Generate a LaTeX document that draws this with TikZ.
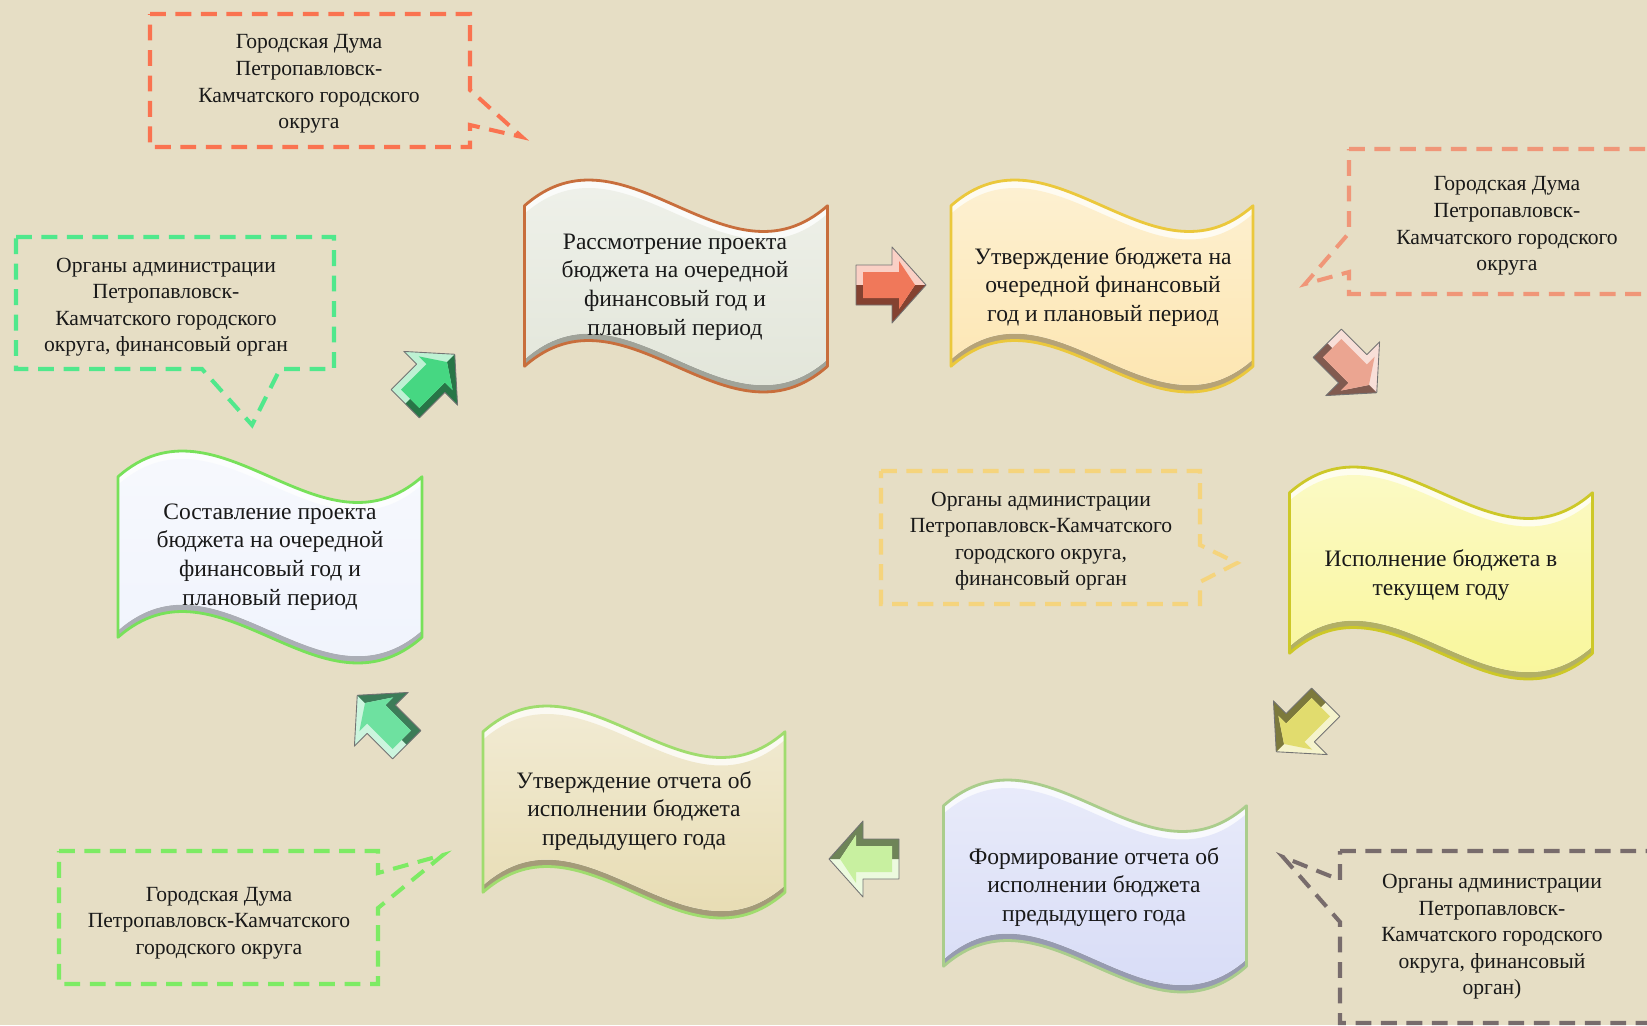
\documentclass[tikz,border=0pt]{standalone}
\usepackage{fontspec}
\setmainfont{Liberation Serif}
\definecolor{bg}{RGB}{230,222,197}
\definecolor{txt}{RGB}{25,25,25}
\definecolor{cA}{RGB}{250,115,80}
\definecolor{cB}{RGB}{80,232,140}
\definecolor{cC}{RGB}{240,150,120}
\definecolor{cD}{RGB}{245,212,125}
\definecolor{cE}{RGB}{120,108,108}
\definecolor{cF}{RGB}{125,235,100}
\definecolor{fA}{RGB}{222,226,212}\definecolor{oA}{RGB}{200,110,60}
\definecolor{fB}{RGB}{252,226,165}\definecolor{oB}{RGB}{235,200,60}
\definecolor{fC}{RGB}{248,245,140}\definecolor{oC}{RGB}{205,200,40}
\definecolor{fD}{RGB}{210,215,245}\definecolor{oD}{RGB}{170,205,140}
\definecolor{fE}{RGB}{228,215,168}\definecolor{oE}{RGB}{160,220,110}
\definecolor{fF}{RGB}{238,242,252}\definecolor{oF}{RGB}{120,225,90}
\definecolor{aA}{RGB}{70,215,130}
\definecolor{aB}{RGB}{240,120,90}
\definecolor{aC}{RGB}{235,165,145}
\definecolor{aD}{RGB}{225,220,110}
\definecolor{aE}{RGB}{200,240,160}
\definecolor{aF}{RGB}{110,225,160}
\newcommand\wavep[4]{(#1-#3/2,#2-#4*3/8) .. controls (#1-#3/6,#2-#4*3/8-#4*5/12) and (#1+#3/6,#2-#4*3/8+#4*5/12) .. (#1+#3/2,#2-#4*3/8) -- (#1+#3/2,#2+#4*3/8) .. controls (#1+#3/6,#2+#4*3/8+#4*5/12) and (#1-#3/6,#2+#4*3/8-#4*5/12) .. (#1-#3/2,#2+#4*3/8) -- cycle}
\newcommand\flagshape[6]{%
 \begin{scope}
  \clip \wavep{#1}{#2}{#3}{#4};
  \fill[#5!72!black] \wavep{#1}{#2}{#3}{#4};
  \fill[#5!15!white] \wavep{#1}{#2-7}{#3}{#4};
  \begin{scope}
   \clip \wavep{#1}{#2-7}{#3}{#4};
   \shade[top color=#5!40!white, bottom color=#5] \wavep{#1}{#2+8}{#3}{#4};
  \end{scope}
 \end{scope}
 \draw[#6, line width=1.6pt, line join=round] \wavep{#1}{#2}{#3}{#4};
}
\newcommand\blockarrow[4]{%
 \begin{scope}[shift={(#1,#2)}, rotate=#3]
  \fill[#4!35!white] (-35,-20) -- (1,-20) -- (1,-38) -- (35,0) -- (1,38) -- (1,20) -- (-35,20) -- cycle;
  \fill[#4!55!black] (-35,0) -- (-35,20) -- (1,20) -- (1,38) -- (35,0) -- (24,0) -- (8,24) -- (8,13) -- (-28,13) -- (-28,0) -- cycle;
  \fill[#4] (-28,-13) -- (8,-13) -- (8,-24) -- (24,0) -- (8,24) -- (8,13) -- (-28,13) -- cycle;
  \draw[black!55, line width=0.5pt, line join=round] (-35,-20) -- (1,-20) -- (1,-38) -- (35,0) -- (1,38) -- (1,20) -- (-35,20) -- cycle;
 \end{scope}}
\tikzset{
 callout/.style={line width=2.3pt, dash pattern=on 9pt off 5.5pt, line join=miter},
 wtext/.style={align=center, text=txt, font=\fontsize{13.4}{16.3}\selectfont},
 ctext/.style={align=center, text=txt, font=\fontsize{12.3}{15.1}\selectfont}
}
\begin{document}
\begin{tikzpicture}[x=0.02cm,y=-0.02cm]
\useasboundingbox (0,0) rectangle (1647,1025);
\clip (0,0) rectangle (1647,1025);
\fill[bg] (0,0) rectangle (1647,1025);

% callouts
\draw[callout, cA] (150,14) -- (470,14) -- (470,90) -- (522,137) -- (470,125) -- (470,147) -- (150,147) -- cycle;
\node[ctext] (t1) at (309,84) {Городская Дума\\Петропавловск-\\Камчатского городского\\округа};

\draw[callout, cB] (16,237) -- (334,237) -- (334,369) -- (280,369) -- (252,425) -- (202,369) -- (16,369) -- cycle;
\node[ctext] (t2) at (166,307) {Органы администрации\\Петропавловск-\\Камчатского городского\\округа, финансовый орган};

\draw[callout, cC] (1349,149) -- (1690,149) -- (1690,294) -- (1349,294) -- (1349,272) -- (1305,284) -- (1349,233) -- cycle;
\node[ctext] (t3) at (1507,226) {Городская Дума\\Петропавловск-\\Камчатского городского\\округа};

\draw[callout, cD] (881,471) -- (1200,471) -- (1200,545) -- (1237,563) -- (1200,582) -- (1200,604) -- (881,604) -- cycle;
\node[ctext] (t4) at (1041,541) {Органы администрации\\Петропавловск-Камчатского\\городского округа,\\финансовый орган};

\draw[callout, cE] (1340,851) -- (1690,851) -- (1690,1023) -- (1340,1023) -- (1340,922) -- (1283,857) -- (1340,880) -- cycle;
\node[ctext] (t5) at (1492,937) {Органы администрации\\Петропавловск-\\Камчатского городского\\округа, финансовый\\орган)};

\draw[callout, cF] (59,851) -- (378,851) -- (378,873) -- (443,855) -- (378,908) -- (378,984) -- (59,984) -- cycle;
\node[ctext] (t6) at (219,923) {Городская Дума\\Петропавловск-Камчатского\\городского округа};

% wave shapes
\flagshape{676}{286}{303}{214}{fA}{oA}
\node[wtext] (w1) at (675,287) {Рассмотрение проекта\\бюджета на очередной\\финансовый год и\\плановый период};

\flagshape{1102}{286}{302}{214}{fB}{oB}
\node[wtext] (w2) at (1103,287) {Утверждение бюджета на\\очередной финансовый\\год и плановый период};

\flagshape{1441}{573}{303}{214}{fC}{oC}
\node[wtext] (w3) at (1441,575) {Исполнение бюджета в\\текущем году};

\flagshape{1095}{886}{303}{214}{fD}{oD}
\node[wtext] (w4) at (1094,887) {Формирование отчета об\\исполнении бюджета\\предыдущего года};

\flagshape{634}{812}{302}{214}{fE}{oE}
\node[wtext] (w5) at (634,811) {Утверждение отчета об\\исполнении бюджета\\предыдущего года};

\flagshape{270}{557}{304}{214}{fF}{oF}
\node[wtext] (w6) at (270,557) {Составление проекта\\бюджета на очередной\\финансовый год и\\плановый период};

% block arrows
\blockarrow{430}{379}{45}{aA}
\blockarrow{891}{285}{0}{aB}
\blockarrow{1352}{368}{-45}{aC}
\blockarrow{1301}{727}{-135}{aD}
\blockarrow{864}{859}{180}{aE}
\blockarrow{382}{720}{135}{aF}
\end{tikzpicture}
\end{document}
